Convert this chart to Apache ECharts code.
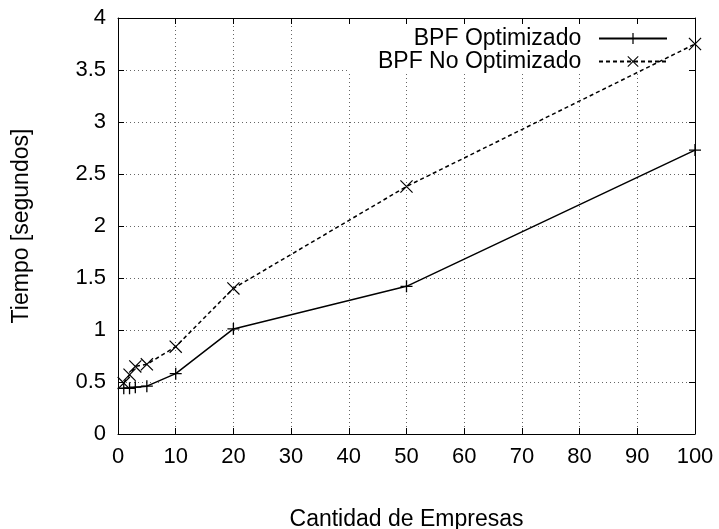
<!DOCTYPE html>
<html>
<head>
<meta charset="utf-8">
<script src="https://cdn.jsdelivr.net/npm/echarts@6/dist/echarts.min.js"></script>
<style>
  html, body { margin: 0; padding: 0; background: #fff; }
  #chart { width: 719px; height: 529px; }
</style>
</head>
<body>
<div id="chart"></div>
<script>
// Number of companies processed
const empresas = [1, 2, 3, 5, 10, 20, 50, 100];
// Execution time in seconds
const tiempoOptimizado = [0.44, 0.44, 0.45, 0.46, 0.58, 1.01, 1.42, 2.73];
const tiempoNoOptimizado = [0.49, 0.57, 0.65, 0.67, 0.84, 1.40, 2.38, 3.75];

const FONT = 'Liberation Sans, Arial, Helvetica, sans-serif';
const FS = 22;
const FS_NAME = 23;
const PLUS = 'path://M8.9,0h2.2v20h-2.2z M0,8.9h20v2.2h-20z';
const CROSS = 'path://M0,1.3 L1.3,0 L20,18.7 L18.7,20 Z M18.7,0 L20,1.3 L1.3,20 L0,18.7 Z';

const pairs = (xs, ys) => xs.map((x, i) => [x, ys[i]]);

const gridDots = { show: true, lineStyle: { color: '#666', width: 1, type: [1, 3] } };
const frame = { show: true, onZero: false, lineStyle: { color: '#000', width: 1 } };
const tick = { show: true, inside: true, length: 6, lineStyle: { color: '#000', width: 1 } };

const chart = echarts.init(document.getElementById('chart'), null, { renderer: 'canvas' });
chart.setOption({
  animation: false,
  backgroundColor: '#fff',
  textStyle: { fontFamily: FONT },
  grid: { left: 118, right: 24, top: 18, bottom: 95, containLabel: false, outerBoundsMode: 'none' },
  legend: {
    z: 1,
    orient: 'vertical',
    align: 'right',
    right: 24,
    top: 18,
    padding: [9, 27, 1, 30],
    backgroundColor: '#fff',
    itemWidth: 68,
    itemHeight: 14,
    itemGap: 0,
    formatter: name => name + '  ',
    textStyle: { fontSize: FS_NAME, lineHeight: 20, color: '#000', fontFamily: FONT },
    data: ['BPF Optimizado', 'BPF No Optimizado']
  },
  xAxis: [{
    type: 'value',
    min: 0, max: 100, interval: 10,
    name: 'Cantidad de Empresas',
    nameLocation: 'middle',
    nameGap: 74,
    nameTextStyle: { fontSize: FS_NAME, color: '#000', fontFamily: FONT },
    axisLine: frame,
    axisTick: tick,
    axisLabel: { fontSize: FS, color: '#000', margin: 12, fontFamily: FONT },
    splitLine: gridDots
  }, {
    type: 'value', position: 'top', z: 2,
    min: 0, max: 100, interval: 10,
    axisLine: frame, axisTick: tick,
    axisLabel: { show: false }, splitLine: { show: false }
  }],
  yAxis: [{
    type: 'value',
    min: 0, max: 4, interval: 0.5,
    name: 'Tiempo [segundos]',
    nameLocation: 'middle',
    nameGap: 85,
    nameTextStyle: { fontSize: FS_NAME, color: '#000', fontFamily: FONT },
    axisLine: frame,
    axisTick: tick,
    axisLabel: { fontSize: FS, color: '#000', margin: 12, fontFamily: FONT },
    splitLine: gridDots
  }, {
    type: 'value', position: 'right', z: 2,
    min: 0, max: 4, interval: 0.5,
    axisLine: frame, axisTick: tick,
    axisLabel: { show: false }, splitLine: { show: false }
  }],
  series: [{
    name: 'BPF Optimizado',
    type: 'line',
    data: pairs(empresas, tiempoOptimizado),
    symbol: PLUS,
    symbolSize: 12,
    showAllSymbol: true,
    itemStyle: { color: '#000' },
    lineStyle: { color: '#000', width: 1.5, type: 'solid' },
    z: 3
  }, {
    name: 'BPF No Optimizado',
    type: 'line',
    data: pairs(empresas, tiempoNoOptimizado),
    symbol: CROSS,
    symbolSize: 13,
    showAllSymbol: true,
    itemStyle: { color: '#000' },
    lineStyle: { color: '#000', width: 1.5, type: [4, 3] },
    z: 3
  }]
});
</script>
</body>
</html>
